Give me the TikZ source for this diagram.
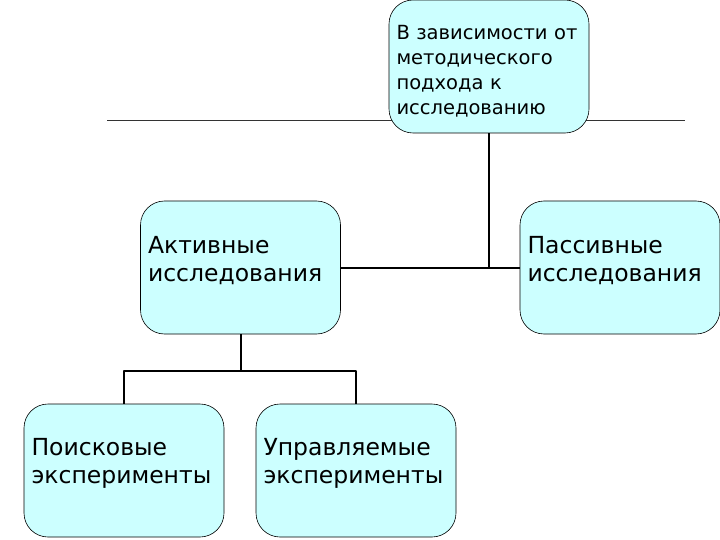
\documentclass[tikz,border=0pt]{standalone}
\usepackage{fontspec}
\setmainfont{DejaVu Sans}
\definecolor{boxfill}{HTML}{CCFFFF}
\tikzset{
	box/.style={draw=black,line width=0.6pt,fill=boxfill,rounded corners=24pt,minimum width=200pt,minimum height=133pt,
		inner xsep=7pt,text width=185pt,align=left,font=\fontsize{23.5}{28}\selectfont},
	conn/.style={line width=2pt},
}
\begin{document}
\begin{tikzpicture}[x=1pt,y=-1pt,line join=round]
				\useasboundingbox (0,0) rectangle (720,540);
				\path
				(107,120) coordinate (L)
				(685,120) coordinate (R)
				;
				\draw[black!80] (L)--(R);
				\node[box,font=\fontsize{19.5}{25}\selectfont] (vz) at (489,66.5) {\rule{0pt}{24pt}В зависимости от\\методического\\подхода к\\исследованию};
				\node[box] (akt) at (240.5,267.5) {Активные\\исследования\\[-10pt]\mbox{}};
				\node[box] (pas) at (620,267.5) {Пассивные\\исследования\\[-10pt]\mbox{}};
				\node[box] (poi) at (124,470.5) {Поисковые\\эксперименты\\[-8pt]\mbox{}};
				\node[box] (upr) at (356,470.5) {Управляемые\\эксперименты\\[-8pt]\mbox{}};
				\draw[conn] (vz.south)--(vz.south |- akt.east) (akt.east)--(pas.west);
				\draw[conn] (akt.south)--++(0,37) coordinate (K);
				\draw[conn] (poi.north)--(K -| poi.north)--(K -| upr.north)--(upr.north);
			\end{tikzpicture}
\end{document}
